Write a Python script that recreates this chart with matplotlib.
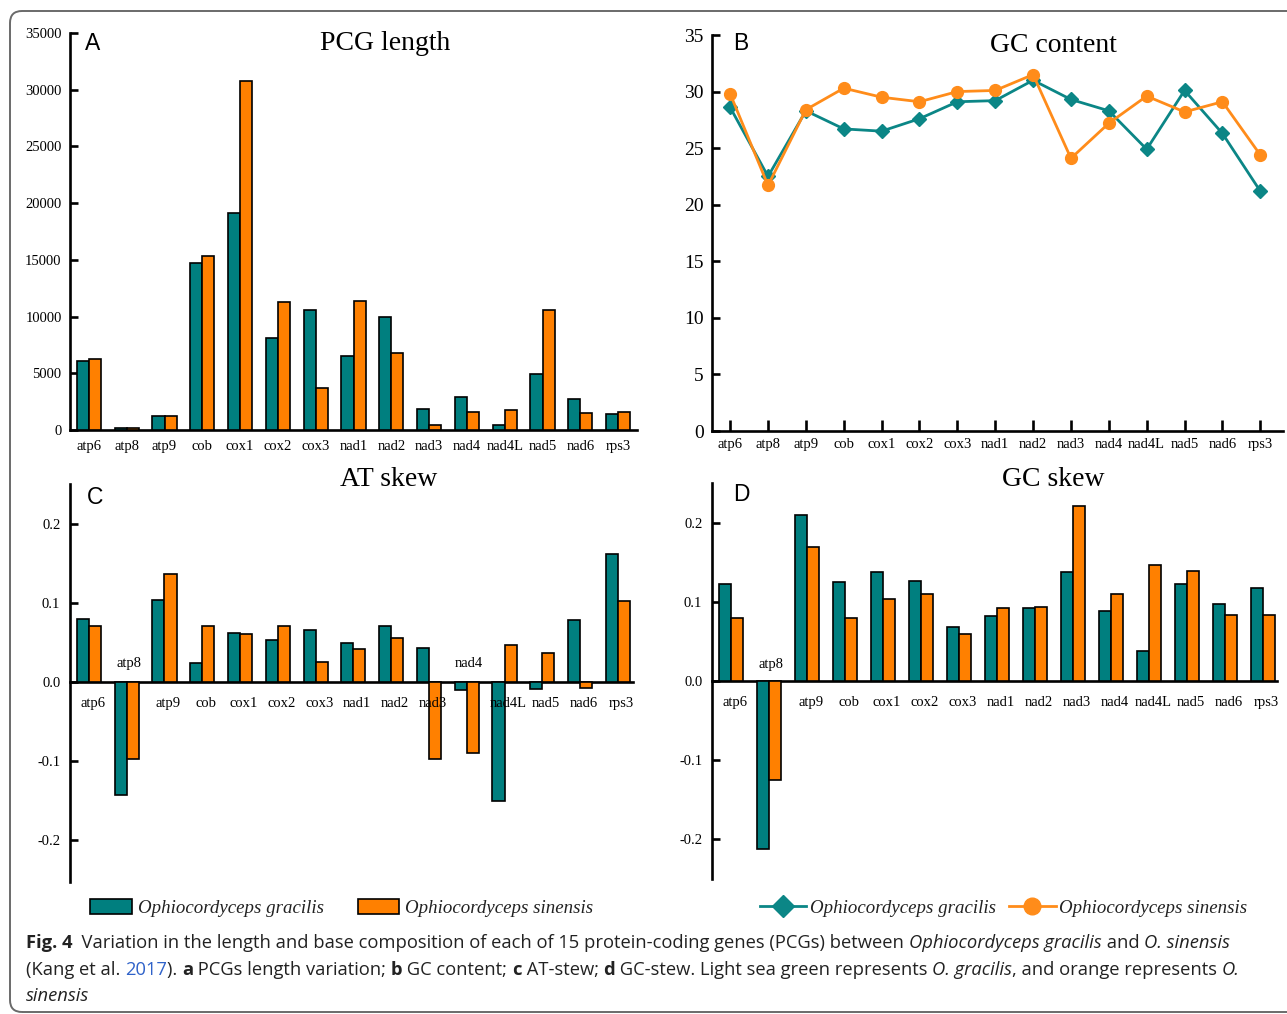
import matplotlib
matplotlib.use('Agg')
import matplotlib.pyplot as plt
from matplotlib.patches import Patch, FancyBboxPatch
from matplotlib.lines import Line2D
from matplotlib.font_manager import FontProperties
import numpy as np

# ---------------- data ----------------
genes = ["atp6", "atp8", "atp9", "cob", "cox1", "cox2", "cox3", "nad1", "nad2",
         "nad3", "nad4", "nad4L", "nad5", "nad6", "rps3"]

len_gracilis = [6090, 150, 1270, 14700, 19100, 8090, 10600, 6530, 10000, 1820, 2880, 410, 4970, 2740, 1440]
len_sinensis = [6230, 150, 1270, 15380, 30800, 11320, 3680, 11410, 6820, 410, 1560, 1760, 10560, 1470, 1560]

gc_gracilis = [28.6, 22.5, 28.3, 26.7, 26.5, 27.6, 29.1, 29.2, 31.0, 29.3, 28.3, 24.9, 30.1, 26.3, 21.2]
gc_sinensis = [29.8, 21.7, 28.4, 30.3, 29.5, 29.1, 30.0, 30.1, 31.5, 24.1, 27.2, 29.6, 28.2, 29.1, 24.4]

at_gracilis = [0.080, -0.143, 0.104, 0.024, 0.062, 0.053, 0.066, 0.049, 0.071, 0.043, -0.010, -0.150, -0.009, 0.078, 0.161]
at_sinensis = [0.071, -0.098, 0.136, 0.070, 0.060, 0.071, 0.025, 0.042, 0.055, -0.098, -0.090, 0.046, 0.037, -0.008, 0.102]

gcs_gracilis = [0.122, -0.212, 0.210, 0.125, 0.138, 0.126, 0.068, 0.082, 0.092, 0.138, 0.089, 0.038, 0.123, 0.097, 0.117]
gcs_sinensis = [0.079, -0.125, 0.169, 0.079, 0.104, 0.110, 0.059, 0.092, 0.094, 0.221, 0.110, 0.146, 0.139, 0.083, 0.083]

len_ticks = [0, 5000, 10000, 15000, 20000, 25000, 30000, 35000]
gc_ticks = [0, 5, 10, 15, 20, 25, 30, 35]
skew_ticks = [-0.2, -0.1, 0.0, 0.1, 0.2]
skew_tick_labels = ["-0.2", "-0.1", "0.0", "0.1", "0.2"]

species = ["Ophiocordyceps gracilis", "Ophiocordyceps sinensis"]

# ---------------- style ----------------
TEAL = "#007f7f"
ORANGE = "#ff8000"
LTEAL = "#0b8686"
LORANGE = "#ff8c1a"
SERIF = "Liberation Serif"
W, H = 1287, 1014

plt.rcParams['font.family'] = [SERIF, 'DejaVu Serif']

fig = plt.figure(figsize=(W / 100, H / 100), dpi=100)


def ax_at(x0, y0, x1, y1):
    return fig.add_axes([x0 / W, 1 - y1 / H, (x1 - x0) / W, (y1 - y0) / H])


def style_axes(ax):
    for s in ['top', 'right']:
        ax.spines[s].set_visible(False)
    for s in ['left', 'bottom']:
        ax.spines[s].set_linewidth(1.9)
        ax.spines[s].set_color('black')


x = np.arange(len(genes))
bw = 0.32

# ---------------- A: PCG length ----------------
axA = ax_at(70, 33, 637, 430)
style_axes(axA)
axA.bar(x - bw / 2, len_gracilis, bw, color=TEAL, edgecolor='black', linewidth=1.2, zorder=3)
axA.bar(x + bw / 2, len_sinensis, bw, color=ORANGE, edgecolor='black', linewidth=1.2, zorder=3)
axA.set_xlim(-0.5, 14.5)
axA.set_ylim(0, 35000)
axA.set_yticks(len_ticks)
axA.set_yticklabels([str(v) for v in len_ticks], fontsize=10.5)
axA.set_xticks(x)
axA.set_xticklabels(genes, fontsize=10.5)
axA.tick_params(axis='y', direction='in', length=6, width=1.9, pad=6)
axA.tick_params(axis='x', length=0, pad=7)

# ---------------- B: GC content ----------------
axB = ax_at(712, 35, 1283, 431)
style_axes(axB)
axB.plot(x, gc_gracilis, color=LTEAL, lw=2, marker='D', markersize=7, zorder=3)
axB.plot(x, gc_sinensis, color=LORANGE, lw=2, marker='o', markersize=8.5, zorder=4)
axB.set_xlim(-0.48, 14.6)
axB.set_ylim(0, 35)
axB.set_yticks(gc_ticks)
axB.set_yticklabels([str(v) for v in gc_ticks], fontsize=14)
axB.set_xticks(x)
axB.set_xticklabels(genes, fontsize=10.5)
axB.tick_params(axis='y', direction='in', length=6, width=1.9, pad=6)
axB.tick_params(axis='x', direction='in', length=8, width=1.9, pad=5)


# ---------------- C / D: skews ----------------
def skew_panel(ax, g, s, above, xlim, dy_below, dy_above):
    style_axes(ax)
    ax.spines['bottom'].set_position(('data', 0))
    ax.bar(x - bw / 2, g, bw, color=TEAL, edgecolor='black', linewidth=1.2, zorder=3)
    ax.bar(x + bw / 2, s, bw, color=ORANGE, edgecolor='black', linewidth=1.2, zorder=3)
    ax.set_xlim(*xlim)
    ax.set_yticks(skew_ticks)
    ax.set_yticklabels(skew_tick_labels, fontsize=10.5)
    ax.tick_params(axis='y', direction='in', length=6, width=1.9, pad=7)
    ax.set_xticks([])
    for i, name in enumerate(genes):
        if name in above:
            ax.text(i + 0.05, dy_above, name, ha='center', va='center', fontsize=10.5, zorder=5)
        else:
            ax.text(i + 0.1, dy_below, name, ha='center', va='center', fontsize=10.5, zorder=5)


axC = ax_at(70, 484, 633, 882)
axC.set_ylim(-0.253, 0.25)
skew_panel(axC, at_gracilis, at_sinensis, ["atp8", "nad4"], (-0.5, 14.4), -0.027, 0.023)

axD = ax_at(712, 483, 1277, 879)
axD.set_ylim(-0.25, 0.25)
skew_panel(axD, gcs_gracilis, gcs_sinensis, ["atp8"], (-0.5, 14.37), -0.027, 0.021)


# ---------------- titles & panel letters ----------------
def fig_text(px, py, s, **kw):
    return fig.text(px / W, 1 - py / H, s, **kw)


fig_text(385, 43, "PCG length", fontsize=20, ha='center', va='center')
fig_text(1053, 45, "GC content", fontsize=20, ha='center', va='center')
fig_text(389, 480, "AT skew", fontsize=20, ha='center', va='center')
fig_text(1053, 480, "GC skew", fontsize=20, ha='center', va='center')
for px, py, L in [(93, 43, "A"), (741, 43, "B"), (95, 497, "C"), (741, 495, "D")]:
    fig_text(px, py, L, fontsize=16.5, ha='center', va='center', family='Liberation Sans')

# ---------------- legends ----------------
legfp = FontProperties(family=SERIF, style='italic', size=13.6)
bar_handles = [Patch(facecolor=TEAL, edgecolor='black', linewidth=1.2, label=species[0]),
               Patch(facecolor=ORANGE, edgecolor='black', linewidth=1.2, label=species[1])]
fig.legend(handles=bar_handles, loc='center left', bbox_to_anchor=(90 / W, 1 - 908 / H),
           ncol=2, frameon=False, prop=legfp, handlelength=2.2, handleheight=0.8,
           handletextpad=0.32, columnspacing=1.8, borderpad=0, borderaxespad=0, labelcolor='#222222')
line_handles = [Line2D([], [], color=LTEAL, lw=2, marker='D', markersize=11, label=species[0]),
                Line2D([], [], color=LORANGE, lw=2, marker='o', markersize=12, label=species[1])]
fig.legend(handles=line_handles, loc='center left', bbox_to_anchor=(760 / W, 1 - 908 / H),
           ncol=2, frameon=False, prop=legfp, handlelength=2.45, handletextpad=0.2,
           columnspacing=0.7, borderpad=0, borderaxespad=0, labelcolor='#222222', numpoints=1)

# ---------------- border ----------------
border = FancyBboxPatch((0.10, 0.02), 13.0, 10.01,
                        boxstyle='round,pad=0,rounding_size=0.12',
                        transform=fig.dpi_scale_trans, fc='none', ec='#6a6a6a', lw=1.4)
fig.add_artist(border)

# ---------------- caption ----------------
renderer = fig.canvas.get_renderer()
CAP_FAM = ['Liberation Sans Narrow', 'Open Sans', 'DejaVu Sans']


def fp_for(style, size):
    kw = dict(family=CAP_FAM, size=size)
    if style == 'b':
        kw['weight'] = 'bold'
    elif style == 'i':
        kw['style'] = 'italic'
    return FontProperties(**kw)


def seg_width(s, fp):
    w1, _, _ = renderer.get_text_width_height_descent("I" + s + "I", fp, ismath=False)
    w2, _, _ = renderer.get_text_width_height_descent("II", fp, ismath=False)
    return w1 - w2


INK = '#222222'
line1 = [("Fig. 4", 'b', INK),
         ("  Variation in the length and base composition of each of 15 protein-coding genes (PCGs) between ", 'n', INK),
         ("Ophiocordyceps gracilis", 'i', INK), (" and ", 'n', INK), ("O. sinensis", 'i', INK)]
line2 = [("(Kang et al. ", 'n', INK), ("2017", 'n', '#2f62c9'), ("). ", 'n', INK),
         ("a", 'b', INK), (" PCGs length variation; ", 'n', INK),
         ("b", 'b', INK), (" GC content; ", 'n', INK),
         ("c", 'b', INK), (" AT-stew; ", 'n', INK),
         ("d", 'b', INK), (" GC-stew. Light sea green represents ", 'n', INK),
         ("O. gracilis", 'i', INK), (", and orange represents ", 'n', INK), ("O.", 'i', INK)]
line3 = [("sinensis", 'i', INK)]

w10 = sum(seg_width(t, fp_for(st, 10)) for t, st, _ in line1)
cap_size = 10 * (1230 - 26) / w10

for segs, base in [(line1, 948), (line2, 975), (line3, 1001)]:
    cx = 26.0
    for t, st, col in segs:
        fp = fp_for(st, cap_size)
        fig.text(cx / W, 1 - base / H, t, fontproperties=fp, color=col, ha='left', va='baseline')
        cx += seg_width(t, fp)

fig.savefig("out.png", dpi=100)
